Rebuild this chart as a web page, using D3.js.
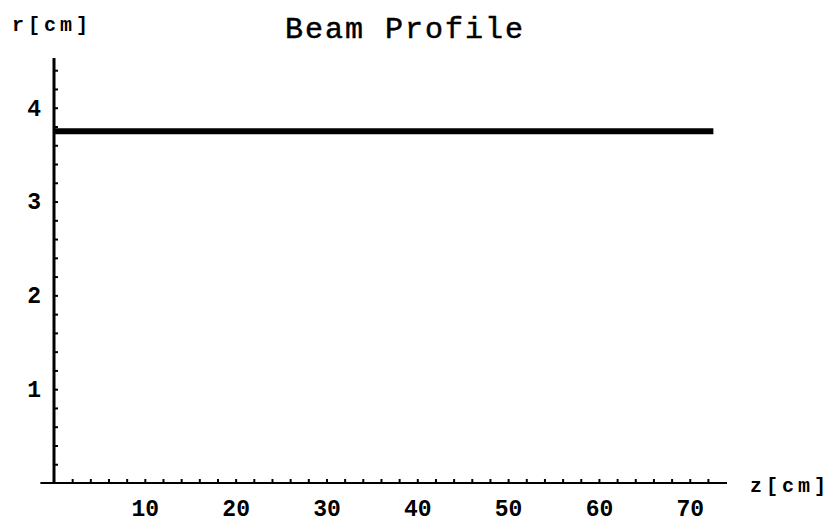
<!DOCTYPE html>
<html>
<head>
<meta charset="utf-8">
<script src="https://cdn.jsdelivr.net/npm/d3@7"></script>
<style>
	body { margin: 0; background: #fff; }
	svg { display: block; }
	text { font-family: 'Liberation Mono', 'DejaVu Sans Mono', monospace; fill: #000; }
</style>
</head>
<body>
<script>
// beam radius along z (flat profile)
var zValues = [0, 72.6];
var rValues = [3.75, 3.75];

var xMajorTicks = [10, 20, 30, 40, 50, 60, 70];
var yMajorTicks = [1, 2, 3, 4];

var WIDTH = 837, HEIGHT = 529;

var svg = d3.select('body')
	.append('svg')
	.attr('width', WIDTH)
	.attr('height', HEIGHT);

var x = d3.scaleLinear().domain([0, 74.1]).range([54, 727]);
var y = d3.scaleLinear().domain([0, 4.53]).range([483, 58]);

// minor ticks every 2 cm along z, every 0.2 cm along r
var xTicks = d3.range(2, 73, 2);
var yTicks = d3.range(0.2, 4.5, 0.2).map(function(v) { return Math.round(v * 10) / 10; });

// ------------------------ X AXIS ------------------------
var xAxis = svg.append('g')
	.attr('transform', 'translate(0,' + y(0) + ')')
	.call(d3.axisBottom(x)
		.tickValues(xTicks)
		.tickSizeInner(-4)
		.tickSizeOuter(0)
		.tickPadding(17)
		.tickFormat(function(d) { return xMajorTicks.indexOf(d) > -1 ? d : ''; }));

xAxis.select('.domain').remove();
xAxis.append('line')
	.attr('x1', x(-1.5)).attr('x2', x(74.1))
	.attr('stroke', '#000').attr('stroke-width', 2);
xAxis.selectAll('.tick line').attr('stroke-width', 2);
xAxis.selectAll('.tick text')
	.attr('font-family', 'Liberation Mono')
	.attr('font-weight', 'bold')
	.style('font-size', '23px')
	.attr('dy', '0.71em');

// ------------------------ Y AXIS ------------------------
var yAxis = svg.append('g')
	.attr('transform', 'translate(' + x(0) + ',0)')
	.call(d3.axisLeft(y)
		.tickValues(yTicks)
		.tickSizeInner(-4)
		.tickSizeOuter(0)
		.tickPadding(13)
		.tickFormat(function(d) { return yMajorTicks.indexOf(d) > -1 ? d : ''; }));

yAxis.select('.domain').remove();
yAxis.append('line')
	.attr('y1', y(0)).attr('y2', y(4.53))
	.attr('stroke', '#000').attr('stroke-width', 3);
yAxis.selectAll('.tick line').attr('stroke-width', 2);
yAxis.selectAll('.tick text')
	.attr('font-family', 'Liberation Mono')
	.attr('font-weight', 'bold')
	.style('font-size', '23px');

// ------------------------ BEAM LINE ------------------------
var line = d3.line()
	.x(function(d, i) { return x(zValues[i]); })
	.y(function(d) { return y(d); });

svg.append('path')
	.datum(rValues)
	.attr('d', line)
	.attr('fill', 'none')
	.attr('stroke', '#000')
	.attr('stroke-width', 6);

// ------------------------ TITLES ------------------------
svg.append('text')
	.attr('x', 405).attr('y', 38)
	.attr('text-anchor', 'middle')
	.attr('stroke', '#000')
	.attr('stroke-width', 0.5)
	.style('font-size', '30px')
	.style('letter-spacing', '2px')
	.text('Beam Profile');

svg.append('text')
	.attr('x', 12).attr('y', 31)
	.attr('font-weight', 'bold')
	.style('font-size', '20px')
	.style('letter-spacing', '4px')
	.text('r[cm]');

svg.append('text')
	.attr('x', 750).attr('y', 492)
	.attr('font-weight', 'bold')
	.style('font-size', '20px')
	.style('letter-spacing', '4px')
	.text('z[cm]');
</script>
</body>
</html>
